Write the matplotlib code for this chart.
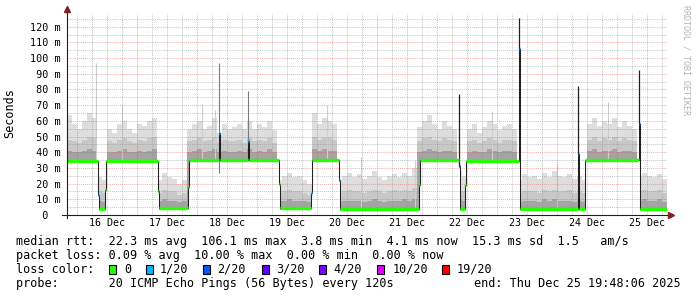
import numpy as np
import pandas as pd
import matplotlib
matplotlib.use('Agg')
import matplotlib.pyplot as plt
import matplotlib.dates as mdates
from matplotlib.patches import Rectangle
from matplotlib.ticker import MultipleLocator

# time range of the graph
start = pd.Timestamp('2025-12-15 19:48:06')
end = pd.Timestamp('2025-12-25 19:48:06')

# median rtt change points: hours since start, value in ms, lost pings (of 20)
med_h = [0, 12.2, 12.6, 15.2, 15.6, 36.4, 36.8, 48.4, 48.8, 60.6, 61.0, 72.2, 72.6,
         84.6, 85.0, 97.4, 97.8, 108.6, 109.0, 140.6, 141.0, 156.6, 157.0, 159.0,
         159.4, 180.6, 181.0, 204.2, 204.6, 207.0, 228.6, 229.0]
med_ms = [34.5, 13, 4, 16, 34.5, 15, 4.5, 18, 35, 52, 35, 47, 35,
          20, 4.5, 14, 35, 22, 4, 19, 35, 31, 4, 19,
          34.5, 106, 4, 39, 4, 35, 58, 4]
med_loss = [0, 1, 0, 0, 0, 0, 0, 0, 0, 1, 0, 1, 0,
            0, 0, 1, 0, 1, 0, 0, 0, 2, 0, 0,
            0, 2, 0, 2, 0, 0, 2, 0]

# smoke, one value per 2 hour bin (120 bins): top ping, upper band, dark band
smoke_max = [64, 58, 55, 60, 65, 62,
             24, 22,
             55, 52, 58, 60, 55, 52, 58, 57, 60, 62,
             22, 27, 24, 23, 20, 22,
             55, 58, 60, 55, 57, 62, 52, 58, 55, 56, 58, 55, 60, 55, 58, 56, 60, 54,
             22, 25, 27, 24, 25, 22, 20,
             65, 58, 62, 60, 58,
             22, 25, 27, 24, 26, 23, 25, 28, 24, 22, 25, 26, 24, 27, 25, 30,
             56, 60, 64, 58, 55, 60, 57, 55,
             28, 25,
             55, 58, 52, 56, 60, 58, 54, 57, 58, 55,
             22, 26, 24, 25, 23, 27, 24, 28, 25, 24, 26, 23, 25, 22,
             58, 62, 57, 60, 58, 62, 56, 60, 57, 55,
             24, 27, 25, 24, 26, 23]
smoke_q3 = [48, 47, 46, 48, 50, 49,
            15, 14,
            47, 46, 48, 49, 47, 46, 48, 47, 49, 50,
            14, 16, 15, 15, 13, 14,
            47, 48, 49, 47, 48, 50, 46, 48, 47, 47, 48, 46, 49, 47, 48, 47, 49, 46,
            14, 15, 16, 15, 15, 14, 13,
            50, 48, 49, 49, 48,
            14, 15, 16, 15, 15, 14, 15, 16, 15, 14, 15, 16, 15, 16, 15, 17,
            47, 49, 50, 48, 47, 49, 48, 47,
            16, 15,
            47, 48, 46, 47, 49, 48, 46, 48, 48, 47,
            14, 15, 15, 15, 14, 16, 15, 16, 15, 15, 16, 14, 15, 14,
            48, 50, 47, 49, 48, 50, 47, 49, 48, 47,
            15, 16, 15, 15, 16, 14]
smoke_q1 = [41, 40, 40, 41, 42, 41,
            9, 8,
            40, 40, 41, 42, 40, 40, 41, 40, 41, 42,
            9, 10, 9, 9, 8, 9,
            40, 41, 42, 40, 41, 42, 40, 41, 40, 40, 41, 40, 42, 40, 41, 40, 42, 40,
            9, 9, 10, 9, 9, 9, 8,
            42, 41, 42, 41, 41,
            8, 9, 9, 9, 9, 8, 9, 10, 9, 8, 9, 9, 9, 10, 9, 10,
            40, 41, 42, 41, 40, 41, 41, 40,
            10, 9,
            40, 41, 40, 40, 42, 41, 40, 41, 41, 40,
            8, 9, 9, 9, 8, 10, 9, 10, 9, 9, 9, 8, 9, 8,
            41, 42, 40, 41, 41, 42, 40, 41, 41, 40,
            9, 10, 9, 9, 10, 8]

# single outlier pings (hours, low ms, high ms)
spike_h = [11.6, 22.0, 53.9, 59.2, 104.0, 117.6, 139.2, 170.0, 196.0, 216.4]
spike_lo = [35, 35, 35, 35, 35, 4, 4, 35, 4, 35]
spike_hi = [97, 70, 71, 67, 70, 37, 35, 66, 33, 72]
dark_spike_h = [60.8, 72.4]
dark_spike_lo = [27, 47]
dark_spike_hi = [97, 79]

# median jumps drawn above the colored box
peak_h = [156.8, 180.8, 204.4, 228.8]
peak_lo = [31, 106, 39, 58]
peak_hi = [77, 125.5, 82, 92.5]

loss_levels = [0, 1, 2, 3, 4, 10, 19]
loss_labels = ['0', '1/20', '2/20', '3/20', '4/20', '10/20', '19/20']
loss_colors = ['#26ff00', '#00b8ff', '#0059ff', '#5e00ff', '#7e00ff', '#dd00ff', '#ff0000']

stats_rtt = "median rtt:  22.3 ms avg  106.1 ms max  3.8 ms min  4.1 ms now  15.3 ms sd  1.5   am/s"
stats_loss = "packet loss: 0.09 % avg  10.00 % max  0.00 % min  0.00 % now"
probe_txt = "probe:       20 ICMP Echo Pings (56 Bytes) every 120s"
end_txt = "end: Thu Dec 25 19:48:06 2025"

mono = 'DejaVu Sans Mono'
W, H = 697, 297
t0 = mdates.date2num(start.to_pydatetime())
t1 = mdates.date2num(end.to_pydatetime())


def hx(h):
    return t0 + np.asarray(h, dtype=float) / 24.0


fig = plt.figure(figsize=(W / 100, H / 100), dpi=100, facecolor='white')
top_px, bot_px, left_px, right_px = 14, 215, 67, 667
ax = fig.add_axes([left_px / W, 1 - bot_px / H, (right_px - left_px) / W, (bot_px - top_px) / H])
ymax = (bot_px - top_px) / 1.569
ax.set_xlim(t0, t1)
ax.set_ylim(0, ymax)

# smoke: evaluate median and bins on the union of all break points
edges = np.arange(0, 241, 2)
pts = np.unique(np.concatenate([edges, med_h, [240]]))
med_idx = np.searchsorted(med_h, pts, side='right') - 1
med_at = np.array(med_ms)[med_idx]
bin_idx = np.minimum((pts // 2).astype(int), 119)
for arr, col in [(smoke_max, '#dedede'), (smoke_q3, '#c8c8c8'), (smoke_q1, '#a4a4a4')]:
    top = np.maximum(np.array(arr, dtype=float)[bin_idx], med_at)
    ax.fill_between(hx(pts), med_at - 1, top, step='post', color=col, lw=0, zorder=1)

ax.vlines(hx(spike_h), spike_lo, spike_hi, color='#cfcfcf', lw=0.8, zorder=1.2)
ax.vlines(hx(dark_spike_h), dark_spike_lo, dark_spike_hi, color='#7a7a7a', lw=0.8, zorder=1.3)

# grid
ax.yaxis.set_major_locator(MultipleLocator(10))
ax.yaxis.set_minor_locator(MultipleLocator(5))
dot = (0, (1, 1))
ax.grid(which='minor', axis='y', color='#8f8f8f', alpha=0.5, lw=0.7, ls=dot, zorder=2.5)
ax.grid(which='major', axis='y', color='#de4f4f', alpha=0.45, lw=0.7, ls=dot, zorder=2.5)
for t in mdates.HourLocator(byhour=[6, 12, 18]).tick_values(start.to_pydatetime(), end.to_pydatetime()):
    if t0 < t < t1:
        ax.axvline(t, color='#8f8f8f', alpha=0.5, lw=0.7, ls=dot, zorder=2.5)
for t in mdates.DayLocator().tick_values(start.to_pydatetime(), end.to_pydatetime()):
    if t0 < t < t1:
        ax.axvline(t, color='#de4f4f', alpha=0.45, lw=0.7, ls=dot, zorder=2.5)

# median line and loss colored boxes
step_h = list(med_h) + [240]
step_v = list(med_ms) + [med_ms[-1]]
ax.step(hx(step_h), step_v, where='post', color='#202020', lw=0.75, zorder=3)
ax.vlines(hx(peak_h), peak_lo, peak_hi, color='#202020', lw=0.9, zorder=3)
cmap = dict(zip(loss_levels, loss_colors))
ax.hlines(med_ms, hx(med_h), hx(step_h[1:]), colors=[cmap[l] for l in med_loss],
          lw=2.4, zorder=4, capstyle='butt')

# axes and arrows
for s in ax.spines.values():
    s.set_visible(False)
ax.plot([0, 0], [-3 / 201, 1.03], transform=ax.transAxes, color='#1f1f1f', lw=0.8, clip_on=False, zorder=5)
ax.plot([-5 / 600, 1.008], [0, 0], transform=ax.transAxes, color='#1f1f1f', lw=0.8, clip_on=False, zorder=5)
ax.plot([0], [1.025], transform=ax.transAxes, marker='^', ms=4, color='#801f1f', clip_on=False, zorder=6)
ax.plot([1.006], [0], transform=ax.transAxes, marker='>', ms=4, color='#801f1f', clip_on=False, zorder=6)

# tick labels
yt = list(range(0, 121, 10))
ax.set_yticks(yt)
ax.set_yticklabels(['  0'] + ['%3d m' % v for v in yt[1:]], family=mono, fontsize=7.3, ha='left')
ax.tick_params(axis='y', which='both', length=0, pad=26.6)
ax.xaxis.set_major_locator(mdates.HourLocator(byhour=12))
ax.xaxis.set_major_formatter(mdates.DateFormatter('%d %b'))
ax.tick_params(axis='x', which='both', length=0, pad=2.5)
for lab in ax.get_xticklabels():
    lab.set_family(mono)
    lab.set_fontsize(7.2)

fig.text(10 / W, 1 - 113.5 / H, 'Seconds', rotation=90, ha='center', va='center', family=mono, fontsize=8.5)
fig.text(686 / W, 1 - 5 / H, 'RRDTOOL / TOBI OETIKER', rotation=270, ha='center', va='top',
         family=mono, fontsize=6, color='#b4b4b4')

# legend / statistics
fs = 8.5
fig.text(16 / W, 1 - 241.5 / H, stats_rtt, family=mono, fontsize=fs, va='center')
fig.text(16 / W, 1 - 255.5 / H, stats_loss, family=mono, fontsize=fs, va='center')
fig.text(16 / W, 1 - 269.5 / H, 'loss color:', family=mono, fontsize=fs, va='center')
box_x = [108.5, 146, 203, 262, 319, 377, 442]
lab_x = [124, 160, 217, 276, 333, 393, 457]
for bx, lx, lab, col in zip(box_x, lab_x, loss_labels, loss_colors):
    fig.add_artist(Rectangle((bx / W, 1 - 274 / H), 7 / W, 9 / H, transform=fig.transFigure,
                             facecolor=col, edgecolor='black', lw=0.8))
    fig.text(lx / W, 1 - 269.5 / H, lab, family=mono, fontsize=fs, va='center')
fig.text(16 / W, 1 - 283.5 / H, probe_txt, family=mono, fontsize=fs, va='center')
fig.text(681 / W, 1 - 283.5 / H, end_txt, family=mono, fontsize=fs, va='center', ha='right')

fig.savefig('out.png', dpi=100, facecolor='white')
